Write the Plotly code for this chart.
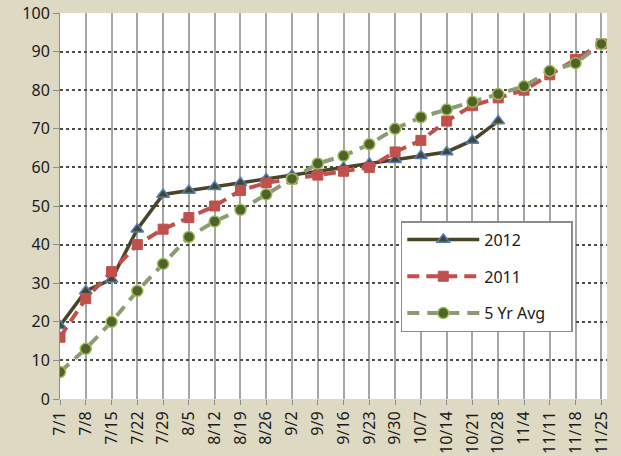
import plotly.graph_objects as go

dates = ["7/1", "7/8", "7/15", "7/22", "7/29", "8/5", "8/12", "8/19", "8/26", "9/2",
         "9/9", "9/16", "9/23", "9/30", "10/7", "10/14", "10/21", "10/28", "11/4",
         "11/11", "11/18", "11/25"]
y2012 = [19, 28, 31, 44, 53, 54, 55, 56, 57, 58, 59, 60, 61, 62, 63, 64, 67, 72]
y2011 = [16, 26, 33, 40, 44, 47, 50, 54, 56, 57, 58, 59, 60, 64, 67, 72, 76, 78, 80, 84, 88, 92]
y5yr = [7, 13, 20, 28, 35, 42, 46, 49, 53, 57, 61, 63, 66, 70, 73, 75, 77, 79, 81, 85, 87, 92]

fig = go.Figure()
fig.add_trace(go.Scatter(
    x=dates[:len(y2012)], y=y2012, name="2012", mode="lines+markers",
    legendgroup="a",
    line=dict(color="#4A4429", width=3.5),
    marker=dict(symbol="triangle-up", size=11, color="#4A4429",
                line=dict(color="#4F81BD", width=1.5))))
fig.add_trace(go.Scatter(
    x=dates, y=y2011, name="2011", mode="lines+markers",
    legendgroup="b",
    line=dict(color="#C0504D", width=4, dash="12px,7px"),
    marker=dict(symbol="square", size=10, color="#C0504D",
                line=dict(color="#C0504D", width=1))))
fig.add_trace(go.Scatter(
    x=dates, y=y5yr, name="5 Yr Avg\u00a0\u00a0\u00a0\u00a0\u00a0", mode="lines+markers",
    legendgroup="c",
    line=dict(color="#8E9A74", width=4, dash="12px,8px"),
    marker=dict(symbol="circle", size=11, color="#4F6228",
                line=dict(color="#9BBB59", width=1.5))))

fig.update_layout(
    width=621, height=456,
    paper_bgcolor="#DDD9C3",
    plot_bgcolor="white",
    margin=dict(l=60, r=14, t=13, b=57, autoexpand=False),
    font=dict(family="Noto Sans, Liberation Sans, sans-serif", size=16, color="#1a1a1a"),
    showlegend=True,
    legend=dict(x=0.623, y=0.461, xanchor="left", yanchor="top",
                bgcolor="white", bordercolor="#8c8c8c", borderwidth=1.5,
                font=dict(size=16), tracegroupgap=13, traceorder="grouped",
                itemwidth=72),
    xaxis=dict(type="category", categoryorder="array", categoryarray=dates,
               range=[0, 21.22], tickangle=-90, automargin=False,
               showgrid=True, gridcolor="#A6A6A6", gridwidth=2,
               ticks="outside", ticklen=5, tickcolor="#8c8c8c",
               showline=False, zeroline=False),
    yaxis=dict(range=[0, 100], dtick=10, automargin=False,
               showgrid=True, gridcolor="#4d4d40", gridwidth=1.5, griddash="dot",
               ticks="outside", ticklen=6, tickcolor="#8c8c8c",
               showline=True, linecolor="#8c8c8c", linewidth=1, zeroline=False),
)

fig.write_html(
    "out.html",
    config={"displayModeBar": False},
    post_script="document.body.style.margin='0';document.body.style.padding='0';"
                "document.body.style.overflow='hidden';",
)
